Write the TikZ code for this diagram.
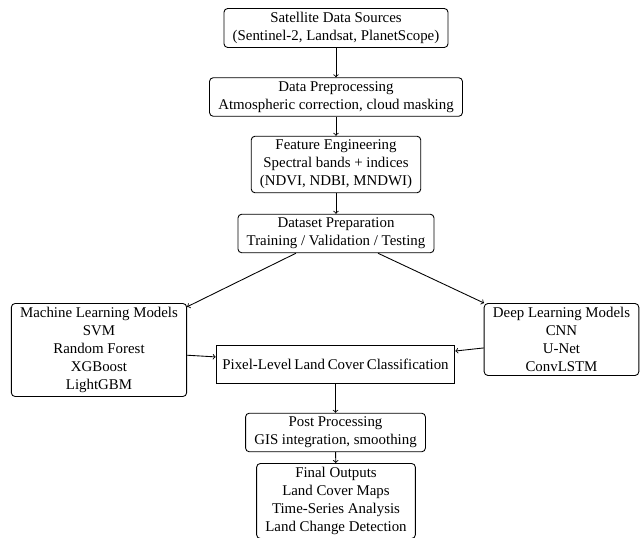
\documentclass[tikz,border=0pt]{standalone}
\usepackage{fontspec}
\setmainfont{Liberation Serif}
\usetikzlibrary{arrows}

\begin{document}
\begin{tikzpicture}[x=0.8pt,y=-0.8pt]
\tikzset{stage/.style={draw,rounded corners=3pt,align=center,inner xsep=7pt,inner ysep=3pt,line width=0.7pt,font=\fontsize{11.9}{14.4}\selectfont}}
\tikzset{flow/.style={->,line width=0.7pt}}
\useasboundingbox (0,0) rectangle (641,538);

\node[stage] (sources) at (336,28) {Satellite Data Sources\\(Sentinel-2, Landsat, PlanetScope)};
\node[stage] (prep) at (336,97) {Data Preprocessing\\Atmospheric correction, cloud masking};
\node[stage] (features) at (336,164.5) {Feature Engineering\\Spectral bands + indices\\(NDVI, NDBI, MNDWI)};
\node[stage] (dataset) at (336,233.5) {Dataset Preparation\\Training / Validation / Testing};
\node[stage] (ml) at (99,350) {Machine Learning Models\\SVM\\Random Forest\\XGBoost\\LightGBM};
\node[stage] (dl) at (561.5,339.5) {Deep Learning Models\\CNN\\U-Net\\ConvLSTM};
\node[stage,rounded corners=0pt,minimum height=30.4pt,inner xsep=5pt] (pixel) at (335.5,364) {\makebox[181pt][s]{Pixel-Level Land Cover Classification}};
\node[stage] (post) at (335.5,432.5) {Post Processing\\GIS integration, smoothing};
\node[stage] (outputs) at (336,501) {Final Outputs\\Land Cover Maps\\Time-Series Analysis\\Land Change Detection};

\draw[flow] (sources) -- (prep);
\draw[flow] (prep) -- (features);
\draw[flow] (features) -- (dataset);
\draw[flow] (dataset) -- (ml);
\draw[flow] (dataset) -- (dl);
\draw[flow] (ml) -- (pixel);
\draw[flow] (dl) -- (pixel);
\draw[flow] (pixel) -- (post);
\draw[flow] (post) -- (outputs);

\end{tikzpicture}
\end{document}
